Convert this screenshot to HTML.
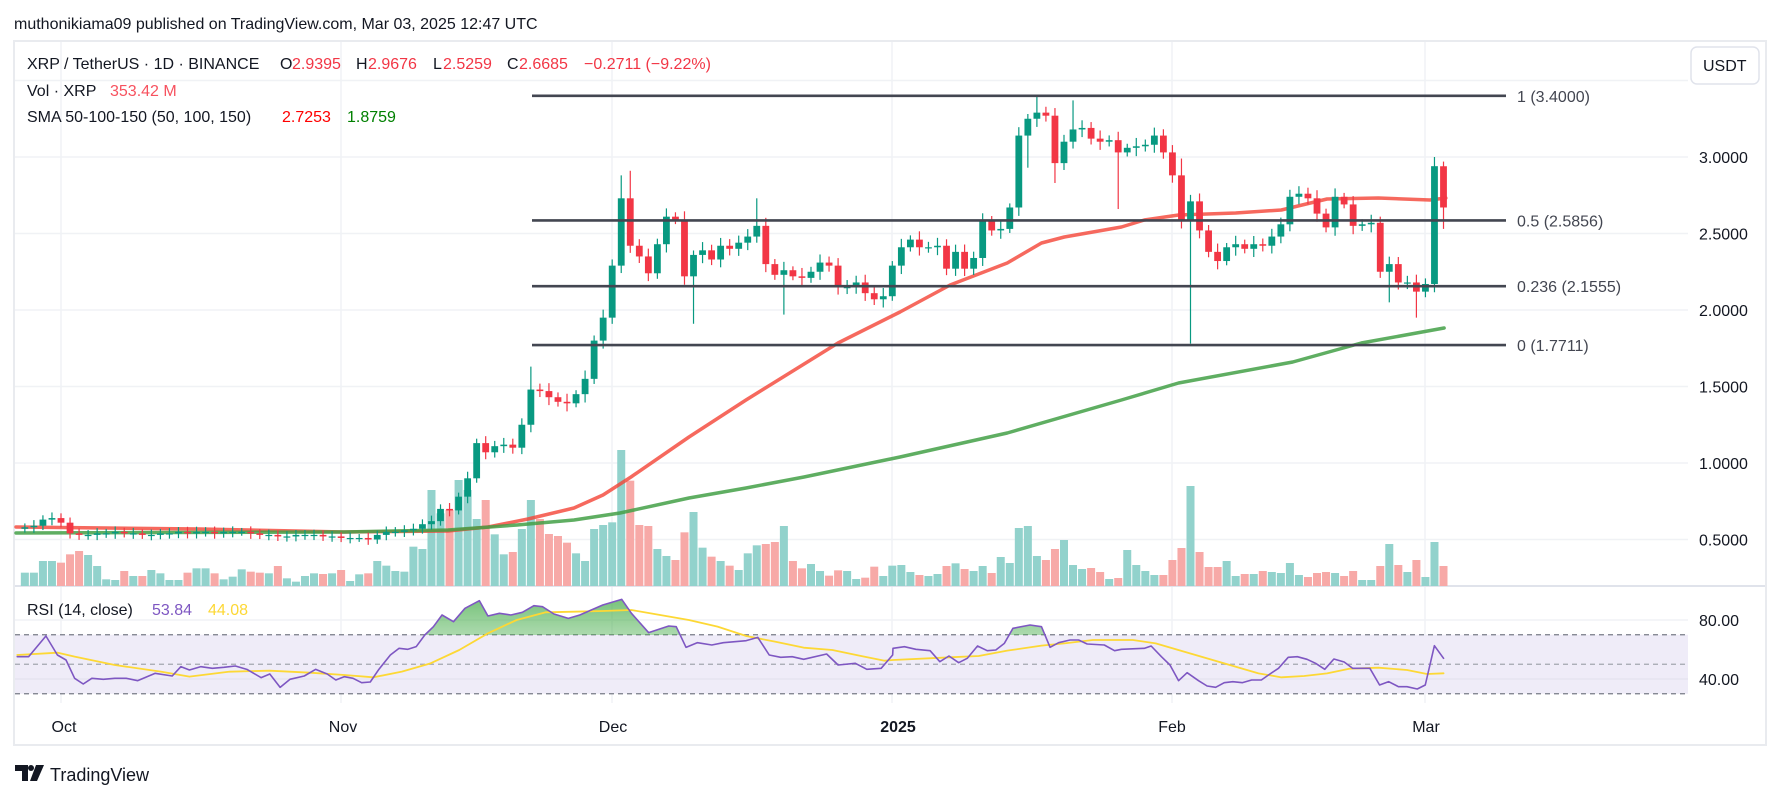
<!DOCTYPE html>
<html><head><meta charset="utf-8">
<style>
html,body{margin:0;padding:0;background:#fff;}
body{width:1781px;height:799px;overflow:hidden;position:relative;font-family:"Liberation Sans",sans-serif;}
svg{position:absolute;left:0;top:0;}
</style></head>
<body>
<svg id="s" width="1781" height="799" xmlns="http://www.w3.org/2000/svg" font-family="Liberation Sans, sans-serif">
<defs>
<linearGradient id="gg" x1="0" y1="0" x2="0" y2="1">
<stop offset="0" stop-color="#4caf50" stop-opacity="0.75"/>
<stop offset="1" stop-color="#4caf50" stop-opacity="0.03"/>
</linearGradient>
<clipPath id="above70"><rect x="0" y="580" width="1781" height="55"/></clipPath>
</defs>
<g id="content"></g>
</svg>
<script>
const NS="http://www.w3.org/2000/svg";
const S=document.getElementById('content');
function el(t,a,txt){const e=document.createElementNS(NS,t);for(const k in a)e.setAttribute(k,a[k]);if(txt!==undefined)e.textContent=txt;S.appendChild(e);return e;}
const X=d=>61+d*9.036;
const Y=p=>157+(3-p)*153;
const RY=v=>620+(80-v)*1.475;
el('rect',{x:14,y:41,width:1752,height:704,fill:'none',stroke:'#e9ebef','stroke-width':2});
el('text',{x:14,y:29,'font-size':16,fill:'#131722'},'muthonikiama09 published on TradingView.com, Mar 03, 2025 12:47 UTC');
[3.5,3,2.5,2,1.5,1,0.5].forEach(p=>el('line',{x1:15,x2:1688,y1:Y(p),y2:Y(p),stroke:'#f0f2f5','stroke-width':1.5}));
[61,341,612,892,1172,1425].forEach(x=>el('line',{x1:x,x2:x,y1:42,y2:703,stroke:'#f0f2f5','stroke-width':1.5}));
el('line',{x1:15,x2:1765,y1:586,y2:586,stroke:'#e0e3eb','stroke-width':2});
el('rect',{x:15,y:RY(70),width:1673,height:RY(30)-RY(70),fill:'#efecf8'});
el('line',{x1:15,x2:1688,y1:RY(80),y2:RY(80),stroke:'#f0f2f5','stroke-width':1.5});
el('line',{x1:15,x2:1688,y1:RY(40),y2:RY(40),stroke:'#e6e3ef','stroke-width':1.5});
[70,30].forEach(v=>el('line',{x1:15,x2:1688,y1:RY(v),y2:RY(v),stroke:'#787b86','stroke-width':1.2,'stroke-dasharray':'5 4'}));
el('line',{x1:15,x2:1688,y1:RY(50),y2:RY(50),stroke:'#a3a6af','stroke-width':1.2,'stroke-dasharray':'5 4'});

const closes=[0.58,0.59,0.63,0.64,
0.61,0.54,0.53,0.53,0.54,0.54,0.55,0.54,0.54,0.53,0.53,0.54,0.54,0.55,0.54,0.55,0.55,0.54,0.55,0.55,0.55,0.54,0.53,0.53,0.52,0.52,0.53,0.53,0.53,0.52,0.52,
0.51,0.51,0.51,0.50,0.53,0.55,0.55,0.56,0.57,0.60,0.62,0.70,0.69,0.78,0.90,1.13,1.07,1.11,1.12,1.10,1.25,1.48,1.47,1.43,1.40,1.39,1.45,1.55,1.80,1.95,
2.29,2.73,2.42,2.35,2.24,2.43,2.61,2.59,2.22,2.36,2.39,2.33,2.42,2.40,2.44,2.48,2.55,2.30,2.23,2.26,2.22,2.21,2.25,2.31,2.29,2.15,2.15,2.18,2.11,2.07,2.09,
2.29,2.41,2.46,2.41,2.41,2.42,2.27,2.38,2.27,2.34,2.58,2.52,2.53,2.67,3.14,3.25,3.29,3.27,2.96,3.10,3.18,3.19,3.12,3.10,3.11,3.03,3.06,3.07,3.08,3.14,3.03,
2.88,2.58,2.71,2.52,2.38,2.32,2.41,2.43,2.40,2.43,2.42,2.48,2.56,2.74,2.76,2.73,2.63,2.54,2.74,2.69,2.55,2.56,2.57,2.25,2.30,2.18,2.18,2.12,
2.17,2.94,2.67];
const vz=[518,518,483,483,488,463,453,465,498,538,540,513,528,528,510,520,540,540,518,505,505,520,538,530,508,515,518,520,498,535,545,528,520,522,520,
510,543,523,520,483,497,513,515,440,447,270,340,330,240,270,357,300,403,463,456,387,300,357,402,408,428,460,483,387,375,
367,150,242,375,378,447,468,480,397,336,443,470,483,497,510,460,436,432,426,378,483,505,492,513,527,511,513,537,533,500,528,
497,495,516,525,528,522,498,490,507,513,498,519,471,489,384,378,468,480,447,420,495,507,504,516,537,534,450,495,513,525,525,
480,444,258,456,501,501,483,528,522,522,513,516,519,489,525,531,519,516,519,528,513,540,540,498,432,495,516,480,
531,426,498];
const hiO={62:2.88,63:2.91,77:2.73,108:3.40,112:3.37,153:2.97,52:1.63,124:2.99,152:3.0};
const loO={70:1.91,125:1.78,107:2.93,110:2.83,117:2.66,147:2.05,150:1.95,153:2.53,80:1.97};
let prev=0.57;
const cs=[];
for(let i=0;i<closes.length;i++){
  const d=i-4; const x=X(d);
  let o=prev,c=closes[i]; if(d===153)o=2.9395;
  const up=c>=o;
  const col=up?'#089981':'#f23645';
  const w=0.015+0.03*Math.abs(Math.sin(i*1.7))*Math.min(1,c/1.5)+0.01;
  let h=Math.max(o,c)+w, l=Math.min(o,c)-w;
  if(hiO[d]!==undefined)h=hiO[d]; if(loO[d]!==undefined)l=loO[d];
  const vh=Math.max(2,186-(vz[i]||520)/3);
  el('rect',{x:x-4,y:586-vh,width:8,height:vh,fill:up?'#92d2cc':'#f7a9a7'});
  prev=c;
  cs.push({x:x,o:o,c:c,h:h,l:l,col:col});
}
function pl(pts,stroke,sw,op){el('polyline',{points:pts.map(p=>p.join(',')).join(' '),fill:'none',stroke:stroke,'stroke-width':sw,'stroke-linejoin':'round','stroke-linecap':'round',opacity:op||1});}
const z2=x=>900+x/1.751-7;
pl([[16,527],[200,529],[344,532],[448,531],[488,527],[528,519],[574,508],[603,495],[631,477],[689,437],[746,400],[838,343],[900,312],[z2(100),285],[z2(200),263],[z2(260),243],[z2(300),237],[z2(400),227],[z2(440),220],[z2(500),215],[z2(600),213],[z2(680),210],[z2(760),199],[z2(850),198],[z2(940),200],[z2(968),198]],'#f44336',3.5,0.8);
pl([[16,533],[344,532],[448,530],[517,525],[574,520],[620,513],[689,498],[746,488],[804,477],[900,457],[z2(200),433],[z2(400),400],[z2(500),383],[z2(700),362],[z2(820),343],[z2(965),328]],'#43a047',3.5,0.85);
cs.forEach(k=>{
  el('line',{x1:k.x,x2:k.x,y1:Y(k.h),y2:Y(k.l),stroke:k.col,'stroke-width':1.2});
  const t=Y(Math.max(k.o,k.c)),b=Y(Math.min(k.o,k.c));
  el('rect',{x:k.x-3.4,y:t,width:6.8,height:Math.max(1.2,b-t),fill:k.col});
});
[[3.4,'1 (3.4000)'],[2.5856,'0.5 (2.5856)'],[2.1555,'0.236 (2.1555)'],[1.7711,'0 (1.7711)']].forEach(f=>{
  const y=Y(f[0]);
  el('line',{x1:532,x2:1506,y1:y,y2:y,stroke:'#434651','stroke-width':2.6});
  el('text',{x:1517,y:y+6,'font-size':16,fill:'#434651'},f[1]);
});
const z3=(x,y)=>[x/1.742,400+y/3], z4=(x,y)=>[900+x/1.751-7,400+y/3];
const r3=[[30,770],[50,770],[80,708],[100,765],[115,780],[130,835],[145,852],[160,835],[180,838],[200,835],[220,835],[240,842],[270,820],[300,828],[315,800],[330,810],[350,800],[370,805],[390,802],[410,798],[430,808],[455,833],[470,822],[488,862],[505,838],[530,828],[550,808],[570,822],[585,840],[600,830],[615,835],[630,848],[645,846],[660,808],[680,765],[695,745],[710,748],[725,740],[740,705],[755,680],[770,645],[790,665],[810,625],[835,602],[850,648],[870,640],[890,645],[910,637],[930,617],[945,620],[965,642],[990,655],[1010,645],[1030,630],[1050,615],[1083,598],[1100,640],[1130,698],[1165,678],[1178,680],[1195,742],[1215,728],[1240,735],[1260,728],[1300,722],[1320,712],[1340,765],[1360,772],[1380,770],[1400,778],[1440,762],[1460,795],[1490,790],[1510,808],[1535,805],[1555,765]].map(p=>z3(p[0],p[1]));
const r4=[[0,745],[20,740],[40,748],[65,752],[82,785],[98,768],[115,788],[130,775],[148,738],[165,752],[180,750],[195,730],[210,685],[240,675],[260,680],[275,742],[290,728],[310,720],[325,720],[340,732],[370,735],[388,752],[400,748],[440,745],[452,738],[470,770],[485,795],[500,842],[515,818],[535,842],[550,858],[565,862],[580,848],[595,845],[612,848],[628,840],[645,840],[660,822],[675,805],[692,772],[708,770],[725,778],[740,790],[756,808],[772,777],[790,786],[805,805],[835,805],[852,855],[868,845],[885,860],[900,860],[918,867],[932,855],[948,737],[964,775]].map(p=>z4(p[0],p[1]));
const rsi=r3.concat(r4);
const poly=rsi.map(p=>p.join(',')).join(' ')+' '+rsi[rsi.length-1][0]+',635 '+rsi[0][0]+',635';
el('polygon',{points:poly,fill:'url(#gg)','clip-path':'url(#above70)'});
const y3=[[30,765],[100,758],[130,770],[200,795],[280,815],[330,830],[400,815],[470,812],[540,818],[600,825],[650,832],[700,815],[750,790],[800,750],[850,700],[900,660],[950,637],[1000,635],[1050,633],[1100,630],[1150,645],[1200,660],[1250,680],[1300,708],[1350,725],[1400,743],[1450,750],[1500,768],[1540,782]].map(p=>z3(p[0],p[1]));
const y4=[[0,780],[100,772],[150,768],[200,752],[260,737],[300,730],[350,720],[420,720],[460,730],[520,760],[580,790],[640,820],[680,832],[720,828],[760,820],[800,806],[850,803],[900,810],[935,822],[964,820]].map(p=>z4(p[0],p[1]));
pl(y3.concat(y4),'#fdd835',1.8);
pl(rsi,'#7e57c2',1.6);
function tx(x,y,s,c,fs){return el('text',{x:x,y:y,'font-size':fs||16,fill:c},s);}
tx(27,69,'XRP / TetherUS · 1D · BINANCE','#131722');
tx(280,69,'O','#131722');tx(292,69,'2.9395','#f23645');
tx(356,69,'H','#131722');tx(368,69,'2.9676','#f23645');
tx(433,69,'L','#131722');tx(443,69,'2.5259','#f23645');
tx(507,69,'C','#131722');tx(519,69,'2.6685','#f23645');
tx(584,69,'−0.2711 (−9.22%)','#f23645');
tx(27,96,'Vol · XRP','#131722');tx(110,96,'353.42 M','#f7525f');
tx(27,122,'SMA 50-100-150 (50, 100, 150)','#131722');tx(282,122,'2.7253','#ff0000');tx(347,122,'1.8759','#008000');
tx(27,615,'RSI (14, close)','#131722');tx(152,615,'53.84','#7e57c2');tx(208,615,'44.08','#fdd835');
[[3,'3.0000'],[2.5,'2.5000'],[2,'2.0000'],[1.5,'1.5000'],[1,'1.0000'],[0.5,'0.5000']].forEach(p=>tx(1699,Y(p[0])+6,p[1],'#131722'));
tx(1699,RY(80)+6,'80.00','#131722');tx(1699,RY(40)+6,'40.00','#131722');
el('rect',{x:1691,y:47,width:68,height:37,rx:6,fill:'#fff',stroke:'#e0e3eb','stroke-width':1.5});
tx(1703,71,'USDT','#131722');
[[64,'Oct'],[343,'Nov'],[613,'Dec'],[898,'2025'],[1172,'Feb'],[1426,'Mar']].forEach(p=>{const t=tx(p[0],732,p[1],'#131722');t.setAttribute('text-anchor','middle');if(p[1]==='2025')t.setAttribute('font-weight','bold');});
el('path',{d:'M15 765h13v16h-6v-10h-7z M36 765h8l-7 16h-7z',fill:'#131722'});
el('circle',{cx:31,cy:768,r:3,fill:'#131722'});
tx(50,781,'TradingView','#131722',18);
</script>
</body></html>
